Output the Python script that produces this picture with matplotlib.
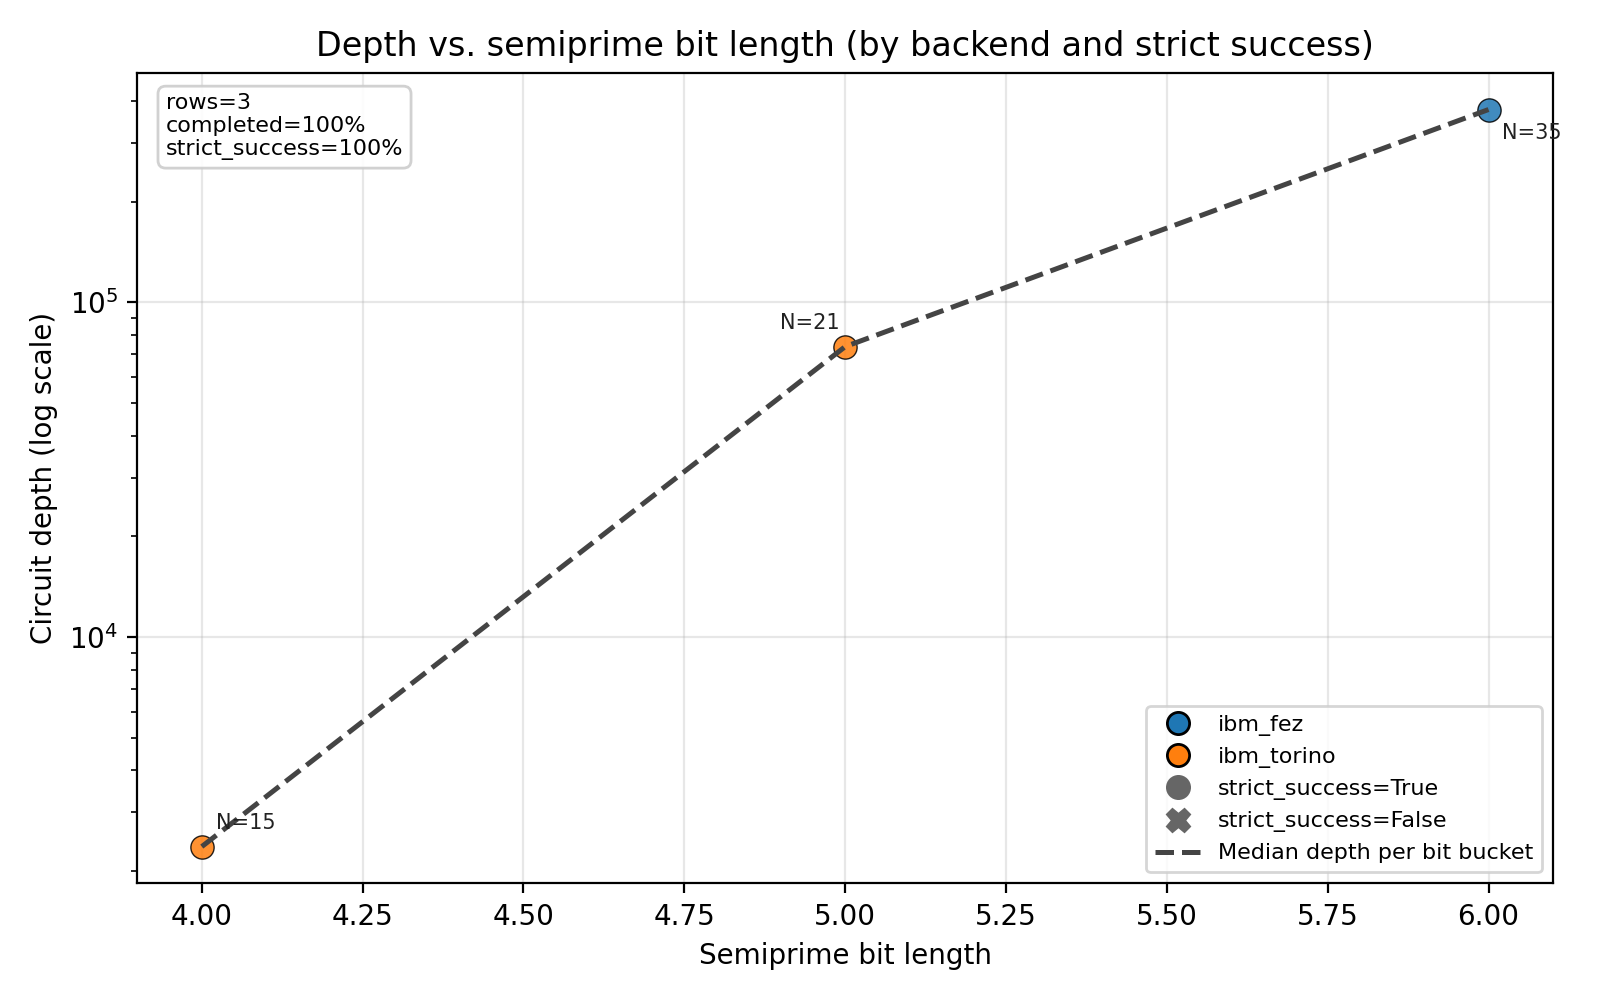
import matplotlib
matplotlib.use("Agg")
import matplotlib.pyplot as plt
from matplotlib.lines import Line2D
import numpy as np

bits = [4, 5, 6]
depths = [2370, 73800, 377000]
backends = ["ibm_torino", "ibm_torino", "ibm_fez"]
Ns = [15, 21, 35]
strict = [True, True, True]
median_depth = [2370, 73800, 377000]
label_offsets = [(5, 5), (-2, 5), (5, -5)]
label_ha = ["left", "right", "left"]
label_va = ["bottom", "bottom", "top"]

colors = {"ibm_fez": "#1f77b4", "ibm_torino": "#ff7f0e"}

fig, ax = plt.subplots(figsize=(8, 5), dpi=200)

for b, d, be, s in zip(bits, depths, backends, strict):
    ax.scatter([b], [d], s=70, color=colors[be], marker="o" if s else "X",
               edgecolor="black", linewidth=0.5, alpha=0.85, zorder=2)

ax.plot(bits, median_depth, linestyle="--", color="#444444", linewidth=1.8, zorder=3)

for b, d, n, off, ha, va in zip(bits, depths, Ns, label_offsets, label_ha, label_va):
    ax.annotate(f"N={n}", (b, d), textcoords="offset points", xytext=off,
                ha=ha, va=va, fontsize=7.5, color="#222222")

ax.set_yscale("log")
ax.grid(True, alpha=0.3)
ax.set_xlabel("Semiprime bit length", fontsize=10)
ax.set_ylabel("Circuit depth (log scale)", fontsize=10)
ax.set_title("Depth vs. semiprime bit length (by backend and strict success)", fontsize=12)

ax.text(0.02, 0.975, "rows=3\ncompleted=100%\nstrict_success=100%",
        transform=ax.transAxes, ha="left", va="top", fontsize=8,
        bbox=dict(boxstyle="round,pad=0.35", facecolor="white", edgecolor="#cccccc", alpha=0.9))

handles = [
    Line2D([0], [0], marker="o", linestyle="", markerfacecolor=colors["ibm_fez"],
           markeredgecolor="black", markersize=8, label="ibm_fez"),
    Line2D([0], [0], marker="o", linestyle="", markerfacecolor=colors["ibm_torino"],
           markeredgecolor="black", markersize=8, label="ibm_torino"),
    Line2D([0], [0], marker="o", linestyle="", markerfacecolor="#666666",
           markeredgecolor="#666666", markersize=8, label="strict_success=True"),
    Line2D([0], [0], marker="X", linestyle="", markerfacecolor="#666666",
           markeredgecolor="#666666", markersize=8, label="strict_success=False"),
    Line2D([0], [0], linestyle="--", color="#444444", linewidth=1.8,
           label="Median depth per bit bucket"),
]
ax.legend(handles=handles, loc="lower right", fontsize=8)

fig.tight_layout()
fig.savefig("out.png", dpi=200)
